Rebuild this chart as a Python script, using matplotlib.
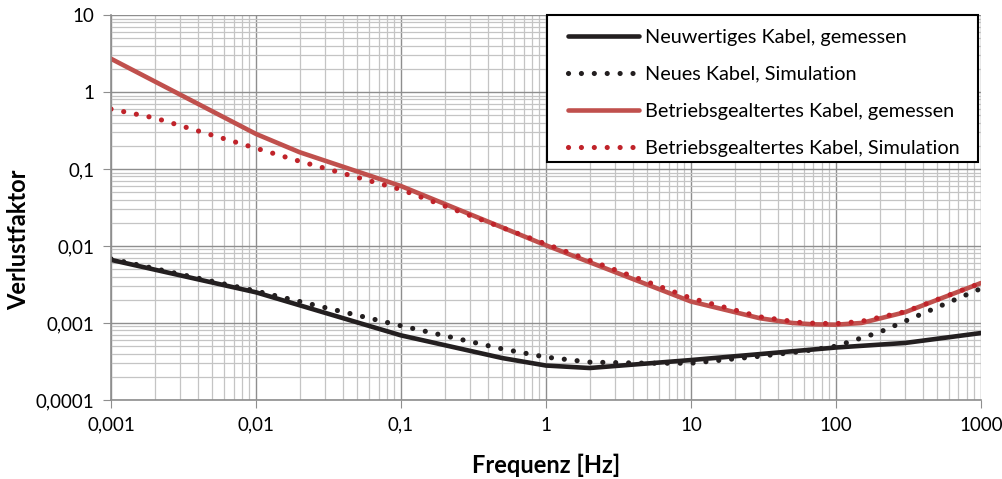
import matplotlib
matplotlib.use('Agg')
import matplotlib.pyplot as plt
from matplotlib.patches import Rectangle
from matplotlib.ticker import LogLocator, FixedLocator, NullFormatter

plt.rcParams['font.family'] = ['Lato', 'DejaVu Sans']

f_neu = [0.001, 0.01, 0.1, 0.5, 1, 2, 10, 100, 300, 1000]
tan_neu = [0.0066, 0.0025, 0.00069, 0.00035, 0.00028, 0.00026, 0.00033, 0.00048, 0.00055, 0.00074]

f_neu_sim = [0.001, 0.01, 0.1, 0.5, 1, 2, 5, 10, 30, 60, 100, 200, 500, 1000]
tan_neu_sim = [0.0068, 0.0026, 0.00092, 0.00046, 0.00036, 0.00031, 0.0003, 0.0003,
               0.00037, 0.00043, 0.0005, 0.00076, 0.0016, 0.0028]

f_alt = [0.001, 0.01, 0.02, 0.1, 1, 10, 30, 50, 70, 100, 150, 300, 1000]
tan_alt = [2.7, 0.285, 0.165, 0.06, 0.0102, 0.0019, 0.00115, 0.001, 0.00096, 0.00095, 0.001,
           0.00138, 0.0033]

f_alt_sim = [0.001, 0.002, 0.01, 0.02, 0.1, 1, 10, 30, 60, 100, 150, 300, 1000]
tan_alt_sim = [0.6, 0.46, 0.186, 0.126, 0.054, 0.0106, 0.0021, 0.0012, 0.001, 0.00098, 0.00105,
               0.0014, 0.0033]

xticks = [0.001, 0.01, 0.1, 1, 10, 100, 1000]
xlabels = ['0,001', '0,01', '0,1', '1', '10', '100', '1000']
yticks = [0.0001, 0.001, 0.01, 0.1, 1, 10]
ylabels = ['0,0001', '0,001', '0,01', '0,1', '1', '10']

fig = plt.figure(figsize=(10.03, 4.79), dpi=100)
ax = fig.add_axes([0.1107, 0.165, 0.8673, 0.8037])

punkte = (0, (0.01, 2.5))  # gepunktete Linie
ax.plot(f_neu, tan_neu, color='#231f20', lw=3.3, solid_capstyle='round',
        label='Neuwertiges Kabel, gemessen')
ax.plot(f_neu_sim, tan_neu_sim, color='#231f20', lw=3.7, linestyle=punkte,
        dash_capstyle='round', label='Neues Kabel, Simulation')
ax.plot(f_alt, tan_alt, color='#c0504d', lw=3.3, solid_capstyle='round',
        label='Betriebsgealtertes Kabel, gemessen')
ax.plot(f_alt_sim, tan_alt_sim, color='#c0232a', lw=3.7, linestyle=punkte,
        dash_capstyle='round', label='Betriebsgealtertes Kabel, Simulation')

ax.set_xscale('log')
ax.set_yscale('log')
ax.set_xlim(0.001, 1000)
ax.set_ylim(0.0001, 10)
ax.xaxis.set_major_locator(FixedLocator(xticks))
ax.set_xticklabels(xlabels)
ax.yaxis.set_major_locator(FixedLocator(yticks))
ax.set_yticklabels(ylabels)
ax.xaxis.set_minor_locator(LogLocator(base=10, subs=range(2, 10), numticks=20))
ax.yaxis.set_minor_locator(LogLocator(base=10, subs=range(2, 10), numticks=20))
ax.xaxis.set_minor_formatter(NullFormatter())
ax.yaxis.set_minor_formatter(NullFormatter())

ax.grid(True, which='major', color='#8e8e8e', lw=1.0)
ax.grid(True, which='minor', color='#c4c4c4', lw=0.9)
ax.set_axisbelow(True)

for s in ['top', 'right']:
    ax.spines[s].set_visible(False)
for s in ['left', 'bottom']:
    ax.spines[s].set_color('#8e8e8e')
    ax.spines[s].set_linewidth(1.2)
ax.tick_params(which='major', length=6, color='#8e8e8e', labelsize=13.5, pad=6)
ax.tick_params(which='minor', length=0)

ax.set_xlabel('Frequenz [Hz]', fontsize=17, fontweight='bold')
ax.set_ylabel('Verlustfaktor', fontsize=17, fontweight='bold')
ax.xaxis.set_label_coords(0.5, -0.14)
ax.yaxis.set_label_coords(-0.093, 0.415)

# Legendenrahmen separat (mehr Rand links als oben)
rahmen = Rectangle((547 / 1003, 1 - 162 / 479), 431 / 1003, 147 / 479,
                   transform=fig.transFigure, facecolor='white', edgecolor='black',
                   lw=1.5, zorder=5)
fig.patches.append(rahmen)

h, l = ax.get_legend_handles_labels()
leg = fig.legend(h, l, loc='upper left', bbox_to_anchor=(568 / 1003, 1 - 29 / 479),
                 bbox_transform=fig.transFigure, borderaxespad=0, borderpad=0,
                 fontsize=14.3, handlelength=3.6, handletextpad=0.3, labelspacing=1.0,
                 frameon=False)
leg.set_zorder(6)

plt.savefig('out.png', dpi=100)
